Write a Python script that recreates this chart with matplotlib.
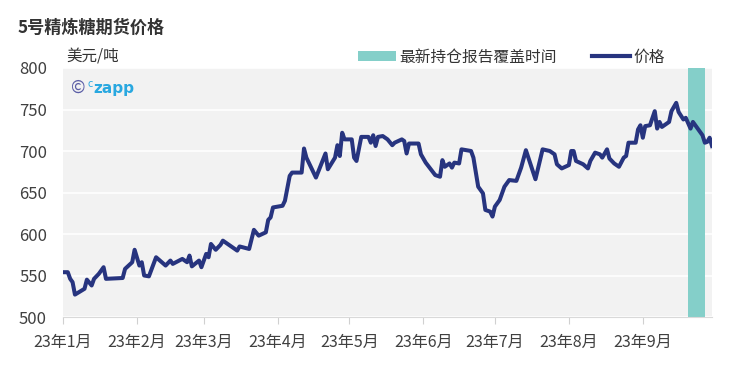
import matplotlib
matplotlib.use("Agg")
import matplotlib.pyplot as plt
from matplotlib.lines import Line2D
from matplotlib.patches import Patch
import pandas as pd

plt.rcParams['font.family'] = ['Noto Sans CJK SC', 'DejaVu Sans']

# 价格数据
dates = [
    '2023-01-01', '2023-01-03', '2023-01-04', '2023-01-05', '2023-01-06', '2023-01-10',
    '2023-01-11', '2023-01-13', '2023-01-14', '2023-01-16', '2023-01-18', '2023-01-19',
    '2023-01-26', '2023-01-27', '2023-01-30', '2023-01-31', '2023-02-02', '2023-02-03',
    '2023-02-04', '2023-02-06', '2023-02-09', '2023-02-13', '2023-02-15', '2023-02-16',
    '2023-02-20', '2023-02-22', '2023-02-23', '2023-02-24', '2023-02-27', '2023-02-28',
    '2023-03-02', '2023-03-03', '2023-03-04', '2023-03-06', '2023-03-08', '2023-03-09',
    '2023-03-15', '2023-03-16', '2023-03-20', '2023-03-22', '2023-03-24', '2023-03-27',
    '2023-03-28', '2023-03-29', '2023-03-30', '2023-04-03', '2023-04-04', '2023-04-06',
    '2023-04-07', '2023-04-11', '2023-04-12', '2023-04-13', '2023-04-17', '2023-04-21',
    '2023-04-22', '2023-04-25', '2023-04-26', '2023-04-27', '2023-04-28', '2023-04-29',
    '2023-05-02', '2023-05-03', '2023-05-04', '2023-05-06', '2023-05-09', '2023-05-10',
    '2023-05-11', '2023-05-12', '2023-05-13', '2023-05-15', '2023-05-17', '2023-05-19',
    '2023-05-20', '2023-05-23', '2023-05-24', '2023-05-25', '2023-05-26', '2023-05-30',
    '2023-05-31', '2023-06-02', '2023-06-06', '2023-06-08', '2023-06-09', '2023-06-10',
    '2023-06-12', '2023-06-13', '2023-06-14', '2023-06-16', '2023-06-17', '2023-06-21',
    '2023-06-22', '2023-06-24', '2023-06-26', '2023-06-27', '2023-06-29', '2023-06-30',
    '2023-07-01', '2023-07-03', '2023-07-05', '2023-07-07', '2023-07-10', '2023-07-12',
    '2023-07-14', '2023-07-18', '2023-07-21', '2023-07-24', '2023-07-26', '2023-07-27',
    '2023-07-29', '2023-08-01', '2023-08-02', '2023-08-03', '2023-08-04', '2023-08-07',
    '2023-08-09', '2023-08-10', '2023-08-12', '2023-08-14', '2023-08-15', '2023-08-17',
    '2023-08-18', '2023-08-20', '2023-08-22', '2023-08-24', '2023-08-25', '2023-08-26',
    '2023-08-29', '2023-08-30', '2023-08-31', '2023-09-01', '2023-09-02', '2023-09-04',
    '2023-09-06', '2023-09-07', '2023-09-08', '2023-09-09', '2023-09-12', '2023-09-13',
    '2023-09-15', '2023-09-16', '2023-09-18', '2023-09-19', '2023-09-21', '2023-09-22',
    '2023-09-24', '2023-09-26', '2023-09-27', '2023-09-28', '2023-09-29', '2023-09-30',
]
prices = [
    554, 554, 546, 542, 527, 534,
    545, 538, 546, 552, 560, 546,
    547, 558, 566, 581, 562, 566,
    550, 549, 572, 562, 568, 564,
    570, 566, 574, 561, 568, 560,
    576, 572, 588, 581, 587, 592,
    580, 585, 582, 605, 598, 602,
    617, 620, 632, 634, 640, 670,
    674, 674, 703, 692, 668, 697,
    678, 692, 707, 694, 722, 714,
    714, 692, 688, 717, 717, 710,
    719, 706, 717, 718, 714, 707,
    710, 714, 712, 697, 709, 709,
    696, 686, 671, 669, 689, 681,
    685, 680, 686, 685, 702, 700,
    692, 657, 649, 629, 627, 621,
    633, 641, 657, 665, 664, 680,
    701, 666, 702, 700, 696, 684,
    679, 683, 700, 700, 688, 684,
    679, 688, 698, 696, 692, 702,
    691, 685, 681, 692, 694, 710,
    710, 726, 731, 716, 730, 731,
    748, 727, 735, 729, 735, 748,
    758, 747, 738, 740, 727, 735,
    727, 719, 710, 711, 716, 706,
]

# 持仓报告覆盖区间
cover_start = '2023-09-20'
cover_end = '2023-09-27'

month_ticks = ['2023-01-01', '2023-02-01', '2023-03-01', '2023-04-01', '2023-05-01',
               '2023-06-01', '2023-07-01', '2023-08-01', '2023-09-01']
month_labels = ['23年1月', '23年2月', '23年3月', '23年4月', '23年5月',
                '23年6月', '23年7月', '23年8月', '23年9月']
y_ticks = [500, 550, 600, 650, 700, 750, 800]

df = pd.DataFrame({'date': pd.to_datetime(dates), 'price': prices})

fig = plt.figure(figsize=(7.32, 3.73), dpi=100)
ax = fig.add_axes([0.0861, 0.1501, 0.8866, 0.6676])
ax.set_facecolor('#f2f2f2')

ax.axvspan(pd.Timestamp(cover_start), pd.Timestamp(cover_end), color='#84cfc9', zorder=2, lw=0)
ax.plot(df['date'], df['price'], color='#27347f', lw=2.9, zorder=3, solid_joinstyle='round')

ax.set_ylim(500, 800)
ax.set_xlim(df['date'].iloc[0], df['date'].iloc[-1])
ax.set_yticks(y_ticks)
ax.grid(axis='y', color='white', lw=1.2, zorder=1)
ax.set_axisbelow(True)

ax.set_xticks(pd.to_datetime(month_ticks))
ax.set_xticklabels(month_labels)
ax.tick_params(axis='x', length=5, color='#d0d0d0', labelsize=11.5, labelcolor='#404040', pad=7)
ax.tick_params(axis='y', length=0, labelsize=12, labelcolor='#404040', pad=11.5)

for s in ['top', 'right', 'left']:
    ax.spines[s].set_visible(False)
ax.spines['bottom'].set_color('#d9d9d9')

fig.text(18 / 732, 1 - 28 / 373, '5号精炼糖期货价格', fontsize=12.3, fontweight='bold',
         color='#333333', va='center', ha='left')
fig.text(66 / 732, 1 - 57 / 373, '美元/吨', fontsize=11.2, color='#333333', va='center', ha='left')

fig.text(71 / 732, 1 - 88 / 373, '©', fontsize=12.5, color='#5b5ea6', va='center', ha='left')
fig.text(88 / 732, 1 - 84 / 373, 'c', fontsize=7, color='#29a8e0', va='center', ha='left',
         family='DejaVu Sans')
fig.text(93 / 732, 1 - 89 / 373, 'zapp', fontsize=11, color='#29a8e0', va='center', ha='left',
         family='DejaVu Sans', fontweight='semibold')

handles = [Patch(facecolor='#84cfc9', edgecolor='none'),
           Line2D([0], [0], color='#27347f', lw=3)]
fig.legend(handles, ['最新持仓报告覆盖时间', '价格'], loc='center left',
           bbox_to_anchor=(358 / 732, 1 - 57 / 373), ncol=2, frameon=False,
           fontsize=11.3, handlelength=2.4, handleheight=0.65, handletextpad=0.2,
           columnspacing=2.3, labelcolor='#333333', borderaxespad=0, borderpad=0)

fig.savefig('out.png', dpi=100)
